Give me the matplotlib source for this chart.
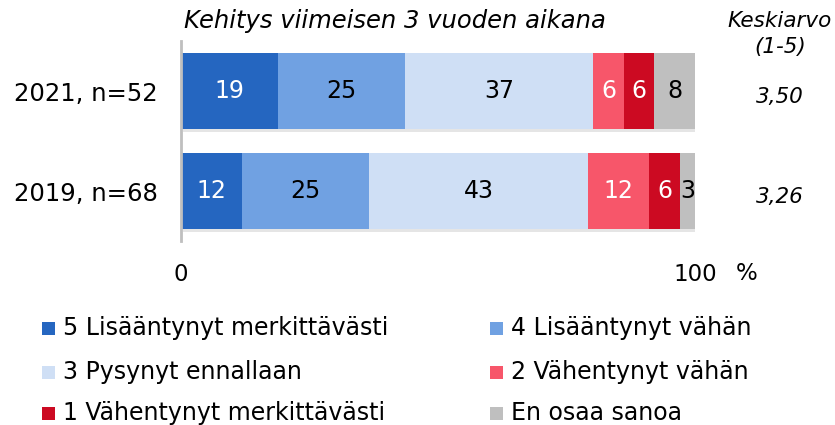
import matplotlib
matplotlib.use("Agg")
import matplotlib.pyplot as plt
import matplotlib.patheffects as pe
from matplotlib.patches import Rectangle
import numpy as np

plt.rcParams['font.family'] = ['DejaVu Sans']

rows = ["2021, n=52", "2019, n=68"]
categories = ["5 Lisääntynyt merkittävästi", "4 Lisääntynyt vähän",
              "3 Pysynyt ennallaan", "2 Vähentynyt vähän",
              "1 Vähentynyt merkittävästi", "En osaa sanoa"]
vals_2021 = [19, 25, 37, 6, 6, 8]
vals_2019 = [12, 25, 43, 12, 6, 3]
means = ["3,50", "3,26"]
colors = ["#2566C0", "#70A1E2", "#CFDFF5", "#F7566A", "#CC0A22", "#BFBFBF"]
label_colors = ["white", "black", "black", "white", "white", "black"]

data = np.array([vals_2021, vals_2019], dtype=float)
widths = data / data.sum(axis=1, keepdims=True) * 100

W, H = 835, 425
fig = plt.figure(figsize=(W/100, H/100), dpi=100)
ax_l, ax_r, ax_t, ax_b = 181, 695, 41, 241
ax = fig.add_axes([ax_l/W, 1-ax_b/H, (ax_r-ax_l)/W, (ax_b-ax_t)/H])

ypos = np.arange(len(rows))
left = np.zeros(len(rows))
shadow = [pe.SimplePatchShadow(offset=(1.5, -2.0), shadow_rgbFace='#AAAAAA', alpha=0.3), pe.Normal()]
for j, cat in enumerate(categories):
    bars = ax.barh(ypos, widths[:, j], left=left, height=0.765, color=colors[j],
                   label=cat, zorder=2)
    for b in bars:
        b.set_path_effects(shadow)
    for i in range(len(rows)):
        ax.text(left[i] + widths[i, j] / 2, ypos[i], f"{int(data[i, j])}",
                ha="center", va="center", fontsize=17, color=label_colors[j], zorder=3)
    left += widths[:, j]

ax.set_xlim(0, 100)
ax.set_ylim(1.5, -0.5)
ax.set_yticks(ypos)
ax.set_yticklabels(rows, fontsize=17.5)
ax.tick_params(axis='y', length=0, pad=17)
ax.set_xticks([0, 100])
ax.set_xticklabels(["0", "100"], fontsize=16.5)
ax.tick_params(axis='x', length=0, pad=15.5)
for s in ["top", "right", "bottom"]:
    ax.spines[s].set_visible(False)
ax.spines["left"].set_color("#BFBFBF")
ax.spines["left"].set_linewidth(2)

fig.text(747/W, 1-273/H, "%", ha="center", va="center", fontsize=16.5)
fig.text(395/W, 1-21/H, "Kehitys viimeisen 3 vuoden aikana", ha="center", va="center",
         fontsize=17.5, style="italic")
fig.text(780/W, 1-21/H, "Keskiarvo", ha="center", va="center", fontsize=15.5, style="italic")
fig.text(780/W, 1-47/H, "(1-5)", ha="center", va="center", fontsize=15.5, style="italic")
mx = (780 - ax_l) / (ax_r - ax_l)
for i, m in enumerate(means):
    ax.text(mx, ypos[i] + 0.06, m, transform=ax.get_yaxis_transform(), fontsize=15.5,
            style="italic", ha="center", va="center")

col_x = [42, 490]
row_y = [328, 372, 413]
for k in range(len(categories)):
    r, c = divmod(k, 2)
    x0, y0 = col_x[c], row_y[r]
    fig.patches.append(Rectangle((x0/W, 1-(y0+6.5)/H), 13/W, 13/H, transform=fig.transFigure,
                                 facecolor=colors[k], edgecolor='none'))
    fig.text((x0+21)/W, 1-y0/H, categories[k], ha="left", va="center", fontsize=17)

fig.savefig("out.png", dpi=100)
